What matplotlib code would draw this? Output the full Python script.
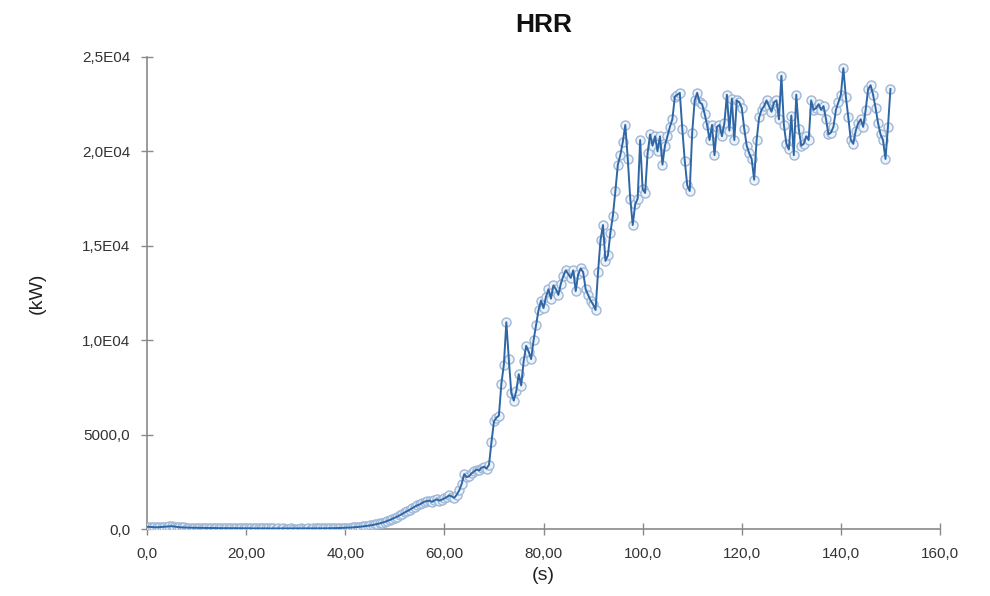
import numpy as np
import matplotlib
matplotlib.use("Agg")
import matplotlib.pyplot as plt
from matplotlib.ticker import FixedLocator, FixedFormatter

plt.rcParams['font.family'] = ['Liberation Sans', 'DejaVu Sans']

# Sample time step (s) and heat release rate samples (kW), 0 .. 150 s
time_step = 0.5
hrr_0_10 = [120, 110, 100, 95, 90, 100, 110, 120, 130, 140, 150, 130, 110, 95, 85, 80, 75, 70, 70, 65]
hrr_10_20 = [65, 60, 60, 55, 55, 50, 55, 50, 50, 45, 45, 50, 45, 45, 40, 45, 40, 40, 40, 35]
hrr_20_30 = [35, 40, 35, 35, 30, 35, 30, 30, 35, 30, 30, 30, 25, 30, 25, 30, 25, 25, 30, 25]
hrr_30_40 = [25, 25, 30, 25, 25, 30, 25, 30, 30, 35, 30, 35, 35, 40, 40, 45, 45, 50, 55, 60]
hrr_40_50 = [65, 70, 75, 85, 95, 105, 120, 135, 150, 170, 190, 210, 240, 270, 300, 340, 380, 430, 480, 540]
hrr_50_60 = [600, 660, 730, 800, 880, 950, 1020, 1100, 1180, 1250, 1300, 1380, 1450, 1480, 1500, 1440, 1520, 1570, 1500, 1560]
hrr_60_70 = [1620, 1700, 1780, 1720, 1650, 1820, 2050, 2400, 2900, 2750, 2800, 2950, 3050, 3150, 3100, 3250, 3300, 3200, 3400, 4600]
hrr_70_80 = [5700, 5900, 6000, 7700, 8700, 10950, 9000, 7200, 6800, 7300, 8200, 7600, 8900, 9700, 9400, 9000, 10000, 10800, 11600, 12100]
hrr_80_90 = [11700, 12300, 12700, 12200, 12900, 12700, 12400, 13000, 13400, 13700, 13500, 13300, 13700, 12600, 13500, 13800, 13600, 12700, 12400, 12100]
hrr_90_100 = [11900, 11600, 13600, 15300, 16100, 14200, 14500, 15700, 16600, 17900, 19300, 19800, 20500, 21400, 19600, 17500, 16100, 17200, 17500, 20600]
hrr_100_110 = [18000, 17800, 19900, 20900, 20300, 20800, 20000, 20800, 19300, 20300, 20800, 21300, 21700, 22900, 23000, 23100, 21200, 19500, 18200, 17900]
hrr_110_120 = [21000, 22700, 23100, 22600, 22500, 22000, 21400, 20600, 21400, 19800, 21300, 21400, 20800, 21500, 23000, 21100, 22800, 20600, 22700, 22600]
hrr_120_130 = [22300, 21200, 20300, 19900, 19600, 18500, 20600, 21800, 22200, 22400, 22700, 22400, 22100, 22600, 22700, 21700, 24000, 21400, 20400, 20100]
hrr_130_140 = [21900, 19800, 23000, 21200, 20300, 20400, 20800, 20600, 22700, 22200, 22300, 22500, 22200, 22400, 21700, 20900, 21000, 21300, 22200, 22600]
hrr_140_150 = [23000, 24400, 22900, 21800, 20600, 20400, 21100, 21500, 21700, 21300, 22200, 23300, 23500, 23000, 22300, 21500, 20900, 20600, 19600, 21300, 23300]

hrr = np.array(hrr_0_10 + hrr_10_20 + hrr_20_30 + hrr_30_40 + hrr_40_50 + hrr_50_60
               + hrr_60_70 + hrr_70_80 + hrr_80_90 + hrr_90_100 + hrr_100_110
               + hrr_110_120 + hrr_120_130 + hrr_130_140 + hrr_140_150, dtype=float)
time = np.arange(len(hrr)) * time_step

x_ticks = [0, 20, 40, 60, 80, 100, 120, 140, 160]
x_labels = ["0,0", "20,00", "40,00", "60,00", "80,00", "100,0", "120,0", "140,0", "160,0"]
y_ticks = [0, 5000, 10000, 15000, 20000, 25000]
y_labels = ["0,0", "5000,0", "1,0E04", "1,5E04", "2,0E04", "2,5E04"]

fig = plt.figure(figsize=(9.9, 5.96), dpi=100)
ax = fig.add_axes([0.1485, 0.1124, 0.801, 0.792])

ax.plot(time, hrr, linestyle='none', marker='o', markersize=6.5,
        markerfacecolor='#eef3fa', markeredgecolor='#9fb8d8', markeredgewidth=1.0, zorder=2)
ax.plot(time, hrr, color='#2e66a6', linewidth=1.4, zorder=3)

ax.set_xlim(0, 160)
ax.set_ylim(0, 25000)
ax.xaxis.set_major_locator(FixedLocator(x_ticks))
ax.xaxis.set_major_formatter(FixedFormatter(x_labels))
ax.yaxis.set_major_locator(FixedLocator(y_ticks))
ax.yaxis.set_major_formatter(FixedFormatter(y_labels))

for side in ('top', 'right'):
    ax.spines[side].set_visible(False)
for side in ('left', 'bottom'):
    ax.spines[side].set_color('#8a8a8a')
    ax.spines[side].set_linewidth(1.2)
    ax.spines[side].set_zorder(1)

ax.tick_params(axis='both', direction='inout', length=8, width=1.0, color='#8a8a8a',
               labelsize=11, labelcolor='#333333')
ax.tick_params(axis='x', pad=9)
ax.tick_params(axis='y', pad=8)

ax.set_title("HRR", fontsize=19, fontweight='bold', color='#111111', pad=18)
ax.set_xlabel("(s)", fontsize=14, color='#222222', labelpad=4)
ax.set_ylabel("(kW)", fontsize=14, color='#222222', labelpad=26)

fig.savefig("out.png", dpi=100, facecolor='white')
